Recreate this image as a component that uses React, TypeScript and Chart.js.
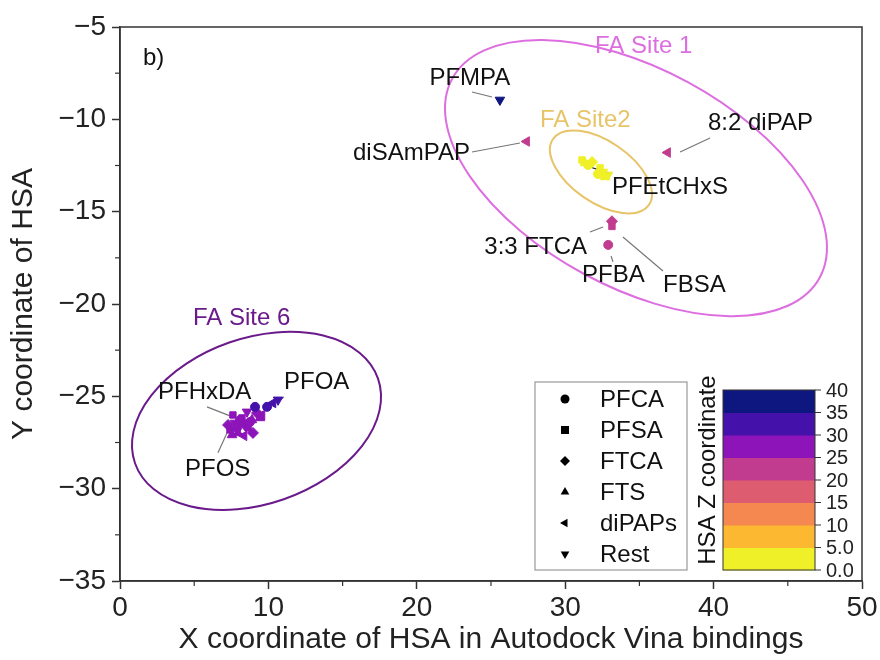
import React, { useEffect, useRef } from "react";
import { Chart, registerables } from "chart.js";
Chart.register(...registerables);

const FONT = "'Liberation Sans', Arial, Helvetica, sans-serif";

// ---- Z colour scale ----
const zBounds = [0, 5, 10, 15, 20, 25, 30, 35, 40];
const zColors = ["#f0f028", "#fbb830", "#f58850", "#de5c70", "#c13c8e", "#8c14b8", "#4412aa", "#0e1680"];
const zTickLabels = ["0.0", "5.0", "10", "15", "20", "25", "30", "35", "40"];
const zTitle = "HSA Z coordinate";

// ---- classes ----
const classNames = ["PFCA", "PFSA", "FTCA", "FTS", "diPAPs", "Rest"];

// ---- series (x, y, z) ----
const pfcaX = [32.9, 31.54, 32.21, 9.10, 9.91, 8.09, 8.76, 7.88];
const pfcaY = [-16.8, -12.47, -12.96, -25.57, -25.57, -26.28, -26.39, -26.71];
const pfcaZ = [22, 3, 2, 32, 31, 27, 28, 27];

const pfsaX = [33.15, 31.13, 32.35, 7.41, 8.22, 8.63, 7.61];
const pfsaY = [-15.8, -12.2, -12.63, -26.82, -26.17, -26.71, -26.01];
const pfsaZ = [22, 2, 3, 27, 28, 27, 26];

const ftcaX = [33.15, 31.81, 7.28, 8.42, 9.23, 8.96];
const ftcaY = [-15.52, -12.31, -26.55, -26.55, -25.9, -26.98];
const ftcaZ = [22, 2, 27, 28, 29, 27];

const ftsX = [32.68, 31.33, 7.95, 8.89, 7.55, 9.43];
const ftsY = [-13.12, -12.36, -26.98, -26.28, -27.09, -26.17];
const ftsZ = [3, 2, 26, 28, 27, 29];

const dipapX = [27.4, 36.9, 10.31, 8.36, 9.57];
const dipapY = [-11.2, -11.8, -25.36, -27.14, -26.01];
const dipapZ = [22, 22, 33, 27, 29];

const restX = [25.6, 32.88, 32.55, 10.65, 8.56, 7.75];
const restY = [-8.95, -13.01, -12.85, -25.19, -25.84, -26.44];
const restZ = [38, 2, 3, 33, 28, 27];

// ---- axis ----
const xTitle = "X coordinate of HSA in Autodock Vina bindings";
const yTitle = "Y coordinate of HSA";
const xMin = 0, xMax = 50, xStep = 10;
const yMin = -35, yMax = -5, yStep = 5;

// ---- annotations ----
const labelTexts = ["b)", "PFMPA", "diSAmPAP", "8:2 diPAP", "PFEtCHxS", "3:3 FTCA", "PFBA", "FBSA", "PFHxDA", "PFOA", "PFOS"];
const labelX = [1.55, 20.85, 23.58, 39.62, 33.15, 31.47, 31.13, 36.59, 2.56, 11.05, 4.38];
const labelY = [-6.68, -7.76, -11.82, -10.2, -13.66, -16.91, -18.43, -18.97, -24.76, -24.27, -28.98];
const labelAlign = ["left", "left", "right", "left", "left", "right", "left", "left", "left", "left", "left"];

const leaderX1 = [23.72, 23.72, 39.76, 31.67, 31.67, 33.09, 33.89, 5.86, 11.05, 6.6];
const leaderY1 = [-8.52, -11.77, -11.01, -12.58, -16.1, -17.4, -16.37, -25.57, -25.03, -28.06];
const leaderX2 = [25.07, 26.95, 37.74, 33.15, 32.55, 33.22, 36.59, 7.41, 10.58, 7.21];
const leaderY2 = [-8.79, -11.28, -11.77, -12.96, -15.83, -17.72, -18.21, -26.06, -25.3, -26.98];
const leaderColor = ["#777", "#777", "#777", "#111", "#777", "#777", "#777", "#777", "#777", "#777"];

const siteNames = ["FA Site 1", "FA Site2", "FA Site 6"];
const siteColors = ["#dd6ee0", "#e8c468", "#6a1a8a"];
const siteLabelX = [32.01, 28.3, 4.92];
const siteLabelY = [-6.03, -10.04, -20.76];
const siteCx = [34.77, 32.41, 9.2];
const siteCy = [-13.18, -12.85, -26.33];
const siteRa = [14.08, 3.92, 8.67]; // in x-axis units
const siteRb = [7.35, 2.06, 5.59];
const siteAngle = [28.4, 34.5, -19.2];

function zColor(z: number) {
  for (let i = 0; i < zColors.length; i++) {
    if (z < zBounds[i + 1]) return zColors[i];
  }
  return zColors[zColors.length - 1];
}

const markerStyles: any[] = [
  { style: "circle", rot: 0, r: 4.5 },
  { style: "rect", rot: 0, r: 4.5 },
  { style: "rectRot", rot: 0, r: 5.5 },
  { style: "triangle", rot: 0, r: 5.5 },
  { style: "triangle", rot: -90, r: 5.5 },
  { style: "triangle", rot: 180, r: 5.5 },
];

function drawMarker(ctx: CanvasRenderingContext2D, kind: number, x: number, y: number, r: number) {
  ctx.beginPath();
  if (kind === 0) {
    ctx.arc(x, y, r, 0, Math.PI * 2);
  } else if (kind === 1) {
    ctx.rect(x - r * 0.8, y - r * 0.8, r * 1.6, r * 1.6);
  } else if (kind === 2) {
    ctx.moveTo(x, y - r);
    ctx.lineTo(x + r, y);
    ctx.lineTo(x, y + r);
    ctx.lineTo(x - r, y);
    ctx.closePath();
  } else {
    const rot = kind === 3 ? 0 : kind === 4 ? -Math.PI / 2 : Math.PI;
    for (let i = 0; i < 3; i++) {
      const a = rot - Math.PI / 2 + (i * 2 * Math.PI) / 3;
      const px = x + r * Math.cos(a);
      const py = y + r * Math.sin(a);
      if (i === 0) ctx.moveTo(px, py);
      else ctx.lineTo(px, py);
    }
    ctx.closePath();
  }
  ctx.fill();
}

const decorPlugin = {
  id: "decor",
  beforeDatasetsDraw(chart: any) {
    const ctx = chart.ctx as CanvasRenderingContext2D;
    const xs = chart.scales.x, ys = chart.scales.y;
    const ppu = (xs.getPixelForValue(10) - xs.getPixelForValue(0)) / 10;
    ctx.save();
    for (let i = 0; i < siteNames.length; i++) {
      ctx.beginPath();
      ctx.ellipse(
        xs.getPixelForValue(siteCx[i]),
        ys.getPixelForValue(siteCy[i]),
        siteRa[i] * ppu,
        siteRb[i] * ppu,
        (siteAngle[i] * Math.PI) / 180,
        0,
        Math.PI * 2
      );
      ctx.strokeStyle = siteColors[i];
      ctx.lineWidth = 2;
      ctx.stroke();
    }
    for (let i = 0; i < leaderX1.length; i++) {
      ctx.beginPath();
      ctx.moveTo(xs.getPixelForValue(leaderX1[i]), ys.getPixelForValue(leaderY1[i]));
      ctx.lineTo(xs.getPixelForValue(leaderX2[i]), ys.getPixelForValue(leaderY2[i]));
      ctx.strokeStyle = leaderColor[i];
      ctx.lineWidth = 1.2;
      ctx.stroke();
    }
    ctx.restore();
  },
  afterDraw(chart: any) {
    const ctx = chart.ctx as CanvasRenderingContext2D;
    const xs = chart.scales.x, ys = chart.scales.y;
    const ca = chart.chartArea;
    ctx.save();
    ctx.strokeStyle = "#333";
    ctx.lineWidth = 1.5;
    ctx.strokeRect(ca.left, ca.top, ca.right - ca.left, ca.bottom - ca.top);
    ctx.lineWidth = 1.2;
    for (let v = xMin + xStep / 2; v < xMax; v += xStep) {
      const px = xs.getPixelForValue(v);
      ctx.beginPath();
      ctx.moveTo(px, ca.bottom);
      ctx.lineTo(px, ca.bottom + 5);
      ctx.stroke();
    }
    for (let v = yMin + yStep / 2; v < yMax; v += yStep) {
      const py = ys.getPixelForValue(v);
      ctx.beginPath();
      ctx.moveTo(ca.left, py);
      ctx.lineTo(ca.left - 5, py);
      ctx.stroke();
    }
    ctx.font = `24px ${FONT}`;
    ctx.textBaseline = "middle";
    ctx.fillStyle = "#111";
    for (let i = 0; i < labelTexts.length; i++) {
      ctx.textAlign = labelAlign[i] as CanvasTextAlign;
      ctx.fillText(labelTexts[i], xs.getPixelForValue(labelX[i]), ys.getPixelForValue(labelY[i]));
    }
    ctx.textAlign = "left";
    for (let i = 0; i < siteNames.length; i++) {
      ctx.fillStyle = siteColors[i];
      ctx.fillText(siteNames[i], xs.getPixelForValue(siteLabelX[i]), ys.getPixelForValue(siteLabelY[i]));
    }
    // legend box
    const lx = 535, ly = 382, lw = 152, lh = 188;
    ctx.fillStyle = "#fff";
    ctx.fillRect(lx, ly, lw, lh);
    ctx.strokeStyle = "#999";
    ctx.lineWidth = 1.2;
    ctx.strokeRect(lx, ly, lw, lh);
    for (let i = 0; i < classNames.length; i++) {
      const ry = 399 + i * 31;
      ctx.fillStyle = "#000";
      drawMarker(ctx, i, 565, ry, i === 0 ? 4.5 : 5);
      ctx.fillStyle = "#111";
      ctx.font = `24px ${FONT}`;
      ctx.textAlign = "left";
      ctx.fillText(classNames[i], 600, ry + 1);
    }
    // colour bar
    const cbL = 723, cbR = 815, cbTop = 390, cbBot = 570;
    const nb = zColors.length;
    const bh = (cbBot - cbTop) / nb;
    for (let i = 0; i < nb; i++) {
      ctx.fillStyle = zColors[i];
      ctx.fillRect(cbL, cbBot - (i + 1) * bh, cbR - cbL, bh + 0.5);
    }
    ctx.strokeStyle = "#333";
    ctx.lineWidth = 1;
    ctx.strokeRect(cbL, cbTop, cbR - cbL, cbBot - cbTop);
    ctx.font = `20px ${FONT}`;
    ctx.fillStyle = "#222";
    ctx.textAlign = "left";
    for (let i = 0; i < zTickLabels.length; i++) {
      const py = cbBot - i * bh;
      ctx.beginPath();
      ctx.moveTo(cbR, py);
      ctx.lineTo(cbR + 6, py);
      ctx.stroke();
      ctx.fillText(zTickLabels[i], cbR + 11, py + 1);
    }
    ctx.save();
    ctx.translate(708, (cbTop + cbBot) / 2 - 10);
    ctx.rotate(-Math.PI / 2);
    ctx.textAlign = "center";
    ctx.font = `24px ${FONT}`;
    ctx.fillStyle = "#111";
    ctx.fillText(zTitle, 0, 0);
    ctx.restore();
    ctx.restore();
  },
};

function makeDataset(label: string, idx: number, xv: number[], yv: number[], zv: number[]) {
  const ms = markerStyles[idx];
  const cols = zv.map(zColor);
  return {
    label,
    data: xv.map((x, i) => ({ x, y: yv[i] })),
    pointStyle: ms.style,
    rotation: ms.rot,
    pointRotation: ms.rot,
    pointRadius: ms.r,
    pointBackgroundColor: cols,
    pointBorderColor: cols,
    pointBorderWidth: 1,
    showLine: false,
  };
}

export default function App() {
  const ref = useRef<HTMLCanvasElement | null>(null);
  useEffect(() => {
    if (!ref.current) return;
    const chart = new Chart(ref.current, {
      type: "scatter",
      data: {
        datasets: [
          makeDataset(classNames[0], 0, pfcaX, pfcaY, pfcaZ),
          makeDataset(classNames[1], 1, pfsaX, pfsaY, pfsaZ),
          makeDataset(classNames[2], 2, ftcaX, ftcaY, ftcaZ),
          makeDataset(classNames[3], 3, ftsX, ftsY, ftsZ),
          makeDataset(classNames[4], 4, dipapX, dipapY, dipapZ),
          makeDataset(classNames[5], 5, restX, restY, restZ),
        ] as any,
      },
      options: {
        animation: false,
        responsive: true,
        maintainAspectRatio: false,
        layout: { padding: { top: 27, right: 18, left: 0, bottom: 0 } },
        plugins: { legend: { display: false }, tooltip: { enabled: false } },
        scales: {
          x: {
            type: "linear",
            min: xMin,
            max: xMax,
            afterFit: (s: any) => { s.height = 79; },
            ticks: { stepSize: xStep, font: { family: FONT, size: 28 }, color: "#222", padding: 2 },
            grid: { drawOnChartArea: false, drawTicks: true, tickLength: 8, tickColor: "#333", tickWidth: 1.5 },
            border: { display: true, color: "#333", width: 1.5 },
            title: { display: true, text: xTitle, font: { family: FONT, size: 30 }, color: "#222", padding: { top: 0, bottom: 2 } },
          },
          y: {
            type: "linear",
            min: yMin,
            max: yMax,
            afterFit: (s: any) => { s.width = 120; },
            ticks: {
              stepSize: yStep,
              font: { family: FONT, size: 28 },
              color: "#222",
              padding: 6,
              callback: (v: any) => (Number(v) < 0 ? "\u2212" + Math.abs(Number(v)) : String(v)),
            },
            grid: { drawOnChartArea: false, drawTicks: true, tickLength: 8, tickColor: "#333", tickWidth: 1.5 },
            border: { display: true, color: "#333", width: 1.5 },
            title: { display: true, text: yTitle, font: { family: FONT, size: 30 }, color: "#222", padding: { top: 6, bottom: 0 } },
          },
        },
      } as any,
      plugins: [decorPlugin],
    });
    return () => chart.destroy();
  }, []);
  return (
    <div style={{ position: "fixed", left: 0, top: 0, width: 880, height: 660, background: "#fff" }}>
      <canvas ref={ref} />
    </div>
  );
}
